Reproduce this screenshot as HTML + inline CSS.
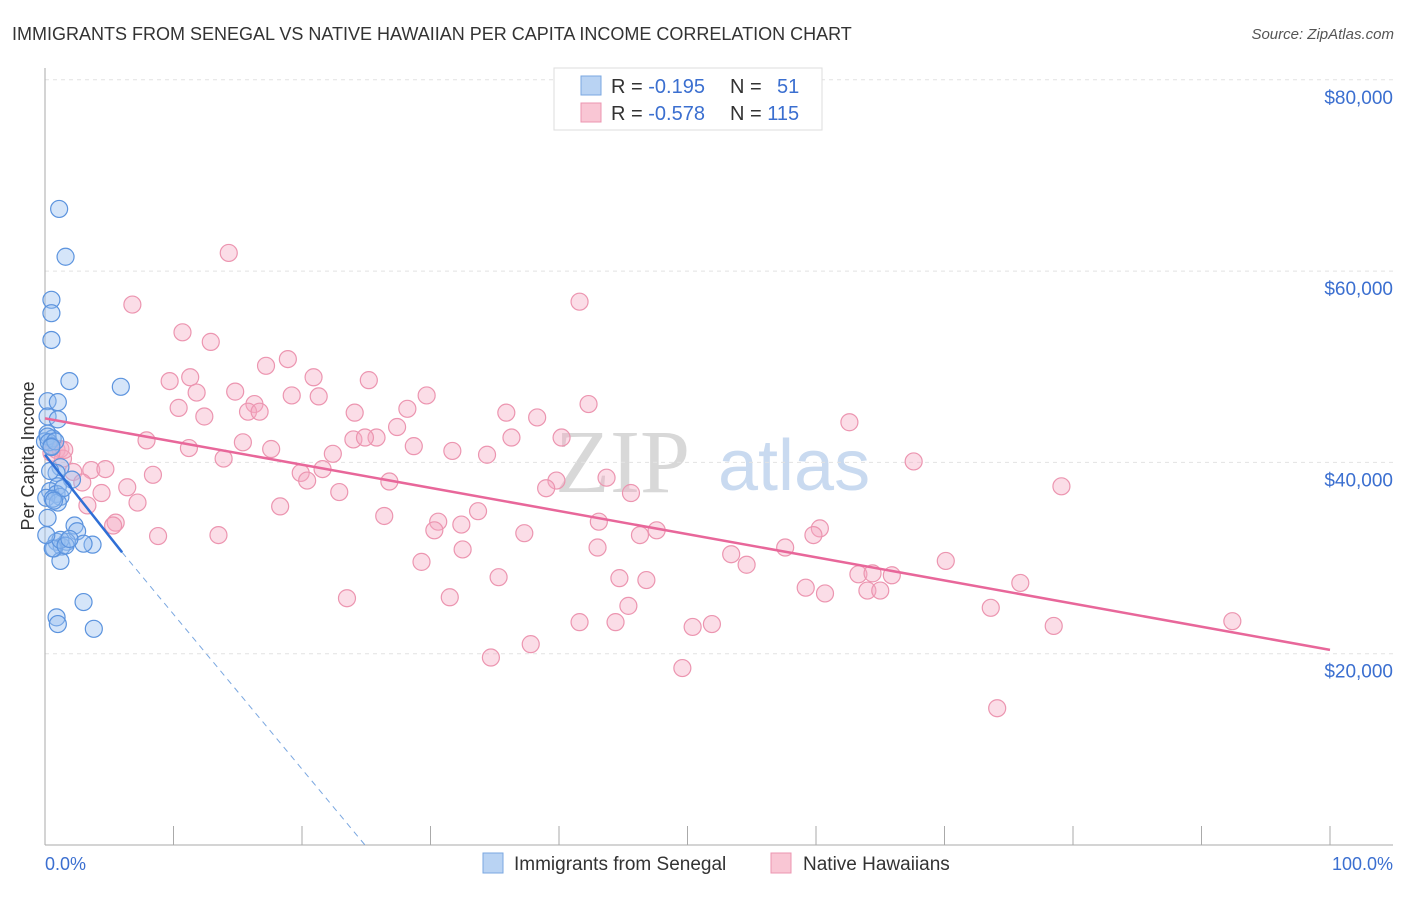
<!DOCTYPE html>
<html><head><meta charset="utf-8"><style>
body{margin:0;background:#fff;font-family:"Liberation Sans",sans-serif}
</style></head><body>
<svg id="c" width="1406" height="892" xmlns="http://www.w3.org/2000/svg" font-family="Liberation Sans, sans-serif">
<text x="12" y="40" font-size="18" fill="#333">IMMIGRANTS FROM SENEGAL VS NATIVE HAWAIIAN PER CAPITA INCOME CORRELATION CHART</text>
<text x="1394" y="39" font-size="15" fill="#555" text-anchor="end" font-style="italic">Source: ZipAtlas.com</text>
<text x="555" y="492" font-size="90" fill="#d8d8d8" font-family="Liberation Serif, serif">ZIP</text>
<text x="718" y="490" font-size="72" fill="#c9daf0">atlas</text>
<text transform="translate(34,456) rotate(-90)" font-size="18" fill="#333" text-anchor="middle">Per Capita Income</text>
<g id="grid"></g><g id="marks"></g>
<g>
<rect x="554" y="68" width="268" height="62" fill="#fff" stroke="#ddd"/>
<rect x="581" y="76" width="20" height="19" fill="#b9d3f3" stroke="#7aa7e0"/>
<rect x="581" y="103" width="20" height="19" fill="#f9c6d4" stroke="#ec95b0"/>
<text x="611" y="93" font-size="20" fill="#333">R = <tspan fill="#3b6fd0">-0.195</tspan><tspan x="730">N = </tspan><tspan x="777" fill="#3b6fd0">51</tspan></text>
<text x="611" y="120" font-size="20" fill="#333">R = <tspan fill="#3b6fd0">-0.578</tspan><tspan x="730">N = </tspan><tspan fill="#3b6fd0">115</tspan></text>
</g>
<text x="45" y="870" font-size="18" fill="#3b6fd0">0.0%</text>
<text x="1393" y="870" font-size="18" fill="#3b6fd0" text-anchor="end">100.0%</text>
<rect x="483" y="853" width="20" height="20" fill="#b9d3f3" stroke="#7aa7e0"/>
<text x="514" y="870" font-size="19" fill="#333">Immigrants from Senegal</text>
<rect x="771" y="853" width="20" height="20" fill="#f9c6d4" stroke="#ec95b0"/>
<text x="803" y="870" font-size="19" fill="#333">Native Hawaiians</text>
</svg>
<script>
const yTicks=[20000,40000,60000,80000];
const yTickLabels=["$20,000","$40,000","$60,000","$80,000"];
const blueX=[1.1,1.6,0.5,0.5,0.5,1.9,5.9,0.2,1.0,0.2,1.0,0.2,0.6,0.0,1.2,0.9,2.1,1.0,0.4,0.9,1.2,0.1,1.0,0.2,2.3,2.5,3.7,1.7,0.9,1.3,0.7,1.2,3.0,0.9,1.0,3.8,0.6,0.2,0.3,0.5,0.8,0.4,0.6,1.4,1.2,0.1,3.0,1.6,1.9,0.5,0.7];
const blueY=[66.5,61.5,57.0,55.6,52.8,48.5,47.9,46.4,46.3,44.8,44.5,43.0,42.5,42.2,39.5,38.9,38.2,37.5,37.0,36.7,36.4,36.3,35.8,34.2,33.4,32.8,31.4,31.7,31.7,31.2,31.0,29.7,25.4,23.8,23.1,22.6,31.0,42.7,42.1,41.7,42.2,39.1,36.2,37.3,31.9,32.4,31.5,31.3,32.0,41.6,36.0];
const pinkX=[14.3,6.8,41.6,10.7,12.9,18.9,17.2,9.7,20.9,25.2,11.3,29.7,42.3,14.8,11.8,19.2,21.3,10.4,16.3,15.8,28.2,12.4,24.1,16.7,35.9,38.3,62.6,25.8,27.4,15.4,40.2,7.9,24.0,24.9,36.3,11.2,17.6,28.7,31.7,34.4,13.9,22.4,67.6,2.2,3.6,4.7,19.9,21.6,8.4,26.8,43.7,39.8,39.0,6.4,4.4,20.4,22.9,45.6,79.1,2.9,7.2,3.3,18.3,33.7,26.4,30.6,5.5,5.3,43.1,32.4,30.3,60.3,47.6,59.8,37.3,8.8,13.5,46.3,32.5,43.0,57.6,53.4,29.3,54.6,70.1,35.3,44.7,46.8,63.3,64.4,65.9,75.9,59.2,60.7,64.0,65.0,23.5,31.5,45.4,73.6,41.6,44.4,51.9,78.5,92.4,50.4,37.8,34.7,49.6,74.1,0.9,1.2,1.4,1.5,0.5];
const pinkY=[61.9,56.5,56.8,53.6,52.6,50.8,50.1,48.5,48.9,48.6,48.9,47.0,46.1,47.4,47.3,47.0,46.9,45.7,46.1,45.3,45.6,44.8,45.2,45.3,45.2,44.7,44.2,42.6,43.7,42.1,42.6,42.3,42.4,42.6,42.6,41.5,41.4,41.7,41.2,40.8,40.4,40.9,40.1,39.0,39.2,39.3,38.9,39.3,38.7,38.0,38.4,38.1,37.3,37.4,36.8,38.1,36.9,36.8,37.5,37.9,35.8,35.5,35.4,34.9,34.4,33.8,33.7,33.4,33.8,33.5,32.9,33.1,32.9,32.4,32.6,32.3,32.4,32.4,30.9,31.1,31.1,30.4,29.6,29.3,29.7,28.0,27.9,27.7,28.3,28.4,28.2,27.4,26.9,26.3,26.6,26.6,25.8,25.9,25.0,24.8,23.3,23.3,23.1,22.9,23.4,22.8,21.0,19.6,18.5,14.3,41.3,41.4,40.4,41.3,41.0];
const blueTrend=[0,40.8,6.0,30.6];
const blueDash=[6.0,30.6,24.9,0];
const pinkTrend=[0,44.6,100,20.4];
const X0=45,X1=1330,YB=845,PX=191.3/20;
const sx=v=>X0+(X1-X0)*v/100;
const sy=v=>YB-v*PX;
const NS="http://www.w3.org/2000/svg";
const grid=document.getElementById('grid'),marks=document.getElementById('marks');
function mk(tag,attrs,parent){const e=document.createElementNS(NS,tag);for(const k in attrs)e.setAttribute(k,attrs[k]);parent.appendChild(e);return e;}
yTicks.forEach((t,i)=>{
 const g=mk('line',{x1:X0,x2:1393,y1:sy(t/1000),y2:sy(t/1000),stroke:'#e2e2e2','stroke-dasharray':'4,4'},grid);
 
 
 const tx=mk('text',{x:1393,y:sy(t/1000)+24,'font-size':19,fill:'#3b6fd0','text-anchor':'end'},grid);
 tx.textContent=yTickLabels[i];
 
 
});
const ax=mk('line',{x1:X0,x2:X0,y1:68,y2:YB,stroke:'#aaa'},grid);


const bx=mk('line',{x1:X0,x2:1393,y1:YB,y2:YB,stroke:'#aaa'},grid);


for(let i=0;i<=10;i++){
 const t=mk('line',{x1:sx(i*10),x2:sx(i*10),y1:826,y2:YB,stroke:'#aaa'},grid);
 
 
}
pinkX.forEach((v,i)=>{
 const c=mk('circle',{cx:sx(v),cy:sy(pinkY[i]),r:8.5,fill:'rgba(246,170,195,0.4)',stroke:'#ec95b0','stroke-width':1.2},marks);
 
 
});
blueX.forEach((v,i)=>{
 const c=mk('circle',{cx:sx(v),cy:sy(blueY[i]),r:8.5,fill:'rgba(150,190,240,0.4)',stroke:'#5b93de','stroke-width':1.2},marks);
 
 
});
const pl=mk('line',{x1:sx(pinkTrend[0]),y1:sy(pinkTrend[1]),x2:sx(pinkTrend[2]),y2:sy(pinkTrend[3]),stroke:'#e8679a','stroke-width':2.5},marks);


const bl=mk('line',{x1:sx(blueTrend[0]),y1:sy(blueTrend[1]),x2:sx(blueTrend[2]),y2:sy(blueTrend[3]),stroke:'#2f6fd6','stroke-width':2.5},marks);


const bd=mk('line',{x1:sx(blueDash[0]),y1:sy(blueDash[1]),x2:sx(blueDash[2]),y2:sy(blueDash[3]),stroke:'#7aa7e0','stroke-width':1,'stroke-dasharray':'6,5'},marks);


</script>
</body></html>
